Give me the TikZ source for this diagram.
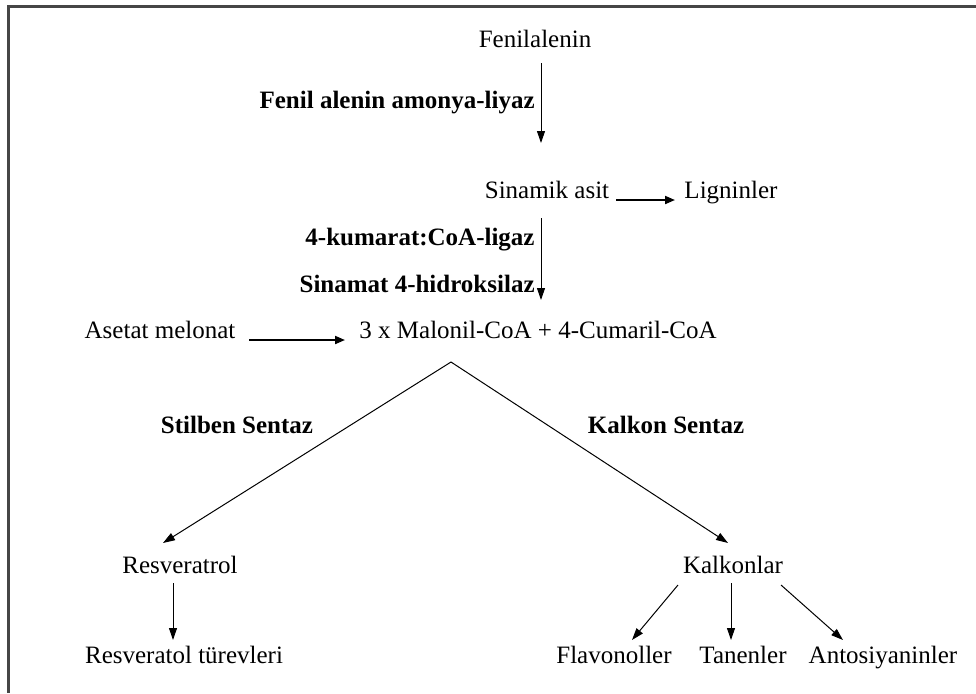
\documentclass[tikz,border=0pt]{standalone}
\usepackage{fontspec}
\setmainfont{Liberation Serif}
\usetikzlibrary{arrows.meta}
\definecolor{framec}{RGB}{70,70,70}
\begin{document}
\begin{tikzpicture}[x=0.5pt,y=-0.5pt,
  lbl/.style={inner sep=0pt,font=\fontsize{12.5}{15}\selectfont,text height=0.7em,text depth=0.2em},
  blbl/.style={lbl,font=\fontsize{12.5}{15}\selectfont\bfseries},
  arr/.style={line width=0.5pt,-{Triangle[length=6pt,width=4pt]}},
  tarr/.style={line width=1pt,-{Triangle[length=5pt,width=4pt]}}]
\useasboundingbox (0,0) rectangle (976,693);
\draw[framec,line width=1.5pt] (976,6.5) -- (8.5,6.5) -- (8.5,693);
% nodes
\node[lbl] (fen) at (535,42) {Fenilalenin};
\node[blbl,anchor=east] (pal) at (535,103) {Fenil alenin amonya-liyaz};
\node[lbl] (sin) at (547,193) {Sinamik asit};
\node[lbl] (lig) at (731,193) {Ligninler};
\node[blbl,anchor=east] (kum) at (535,240) {4-kumarat:CoA-ligaz};
\node[blbl,anchor=east] (hid) at (535,287) {Sinamat 4-hidroksilaz};
\node[lbl] (ase) at (160,333) {Asetat melonat};
\node[lbl] (mal) at (538,333) {3 x Malonil-CoA + 4-Cumaril-CoA};
\node[blbl] (sti) at (237,428) {Stilben Sentaz};
\node[blbl] (kal) at (666,428) {Kalkon Sentaz};
\node[lbl] (res) at (180,568) {Resveratrol};
\node[lbl] (kon) at (733,568) {Kalkonlar};
\node[lbl] (tur) at (184,658) {Resveratol türevleri};
\node[lbl] (fla) at (614,658) {Flavonoller};
\node[lbl] (tan) at (743,658) {Tanenler};
\node[lbl] (ant) at (883,658) {Antosiyaninler};
% connector end points
\coordinate (a1s) at (541,63);  \coordinate (a1e) at (541,143);
\coordinate (a2s) at (616,200); \coordinate (a2e) at (675,200);
\coordinate (a3s) at (541,218); \coordinate (a3e) at (541,300);
\coordinate (a4s) at (249,340); \coordinate (a4e) at (345,340);
\coordinate (apex) at (451,362);
\coordinate (a5e) at (163,543); \coordinate (a6e) at (728,543);
\coordinate (a7s) at (173,583); \coordinate (a7e) at (173,640);
\coordinate (b1s) at (678,585); \coordinate (b1e) at (632,640);
\coordinate (b2s) at (731,583); \coordinate (b2e) at (731,640);
\coordinate (b3s) at (781,585); \coordinate (b3e) at (843,640);
% connectors
\draw[arr] (a1s) -- (a1e);
\draw[tarr] (a2s) -- (a2e);
\draw[arr] (a3s) -- (a3e);
\draw[tarr] (a4s) -- (a4e);
\draw[arr] (apex) -- (a5e);
\draw[arr] (apex) -- (a6e);
\draw[arr] (a7s) -- (a7e);
\draw[arr] (b1s) -- (b1e);
\draw[arr] (b2s) -- (b2e);
\draw[arr] (b3s) -- (b3e);
\end{tikzpicture}
\end{document}
